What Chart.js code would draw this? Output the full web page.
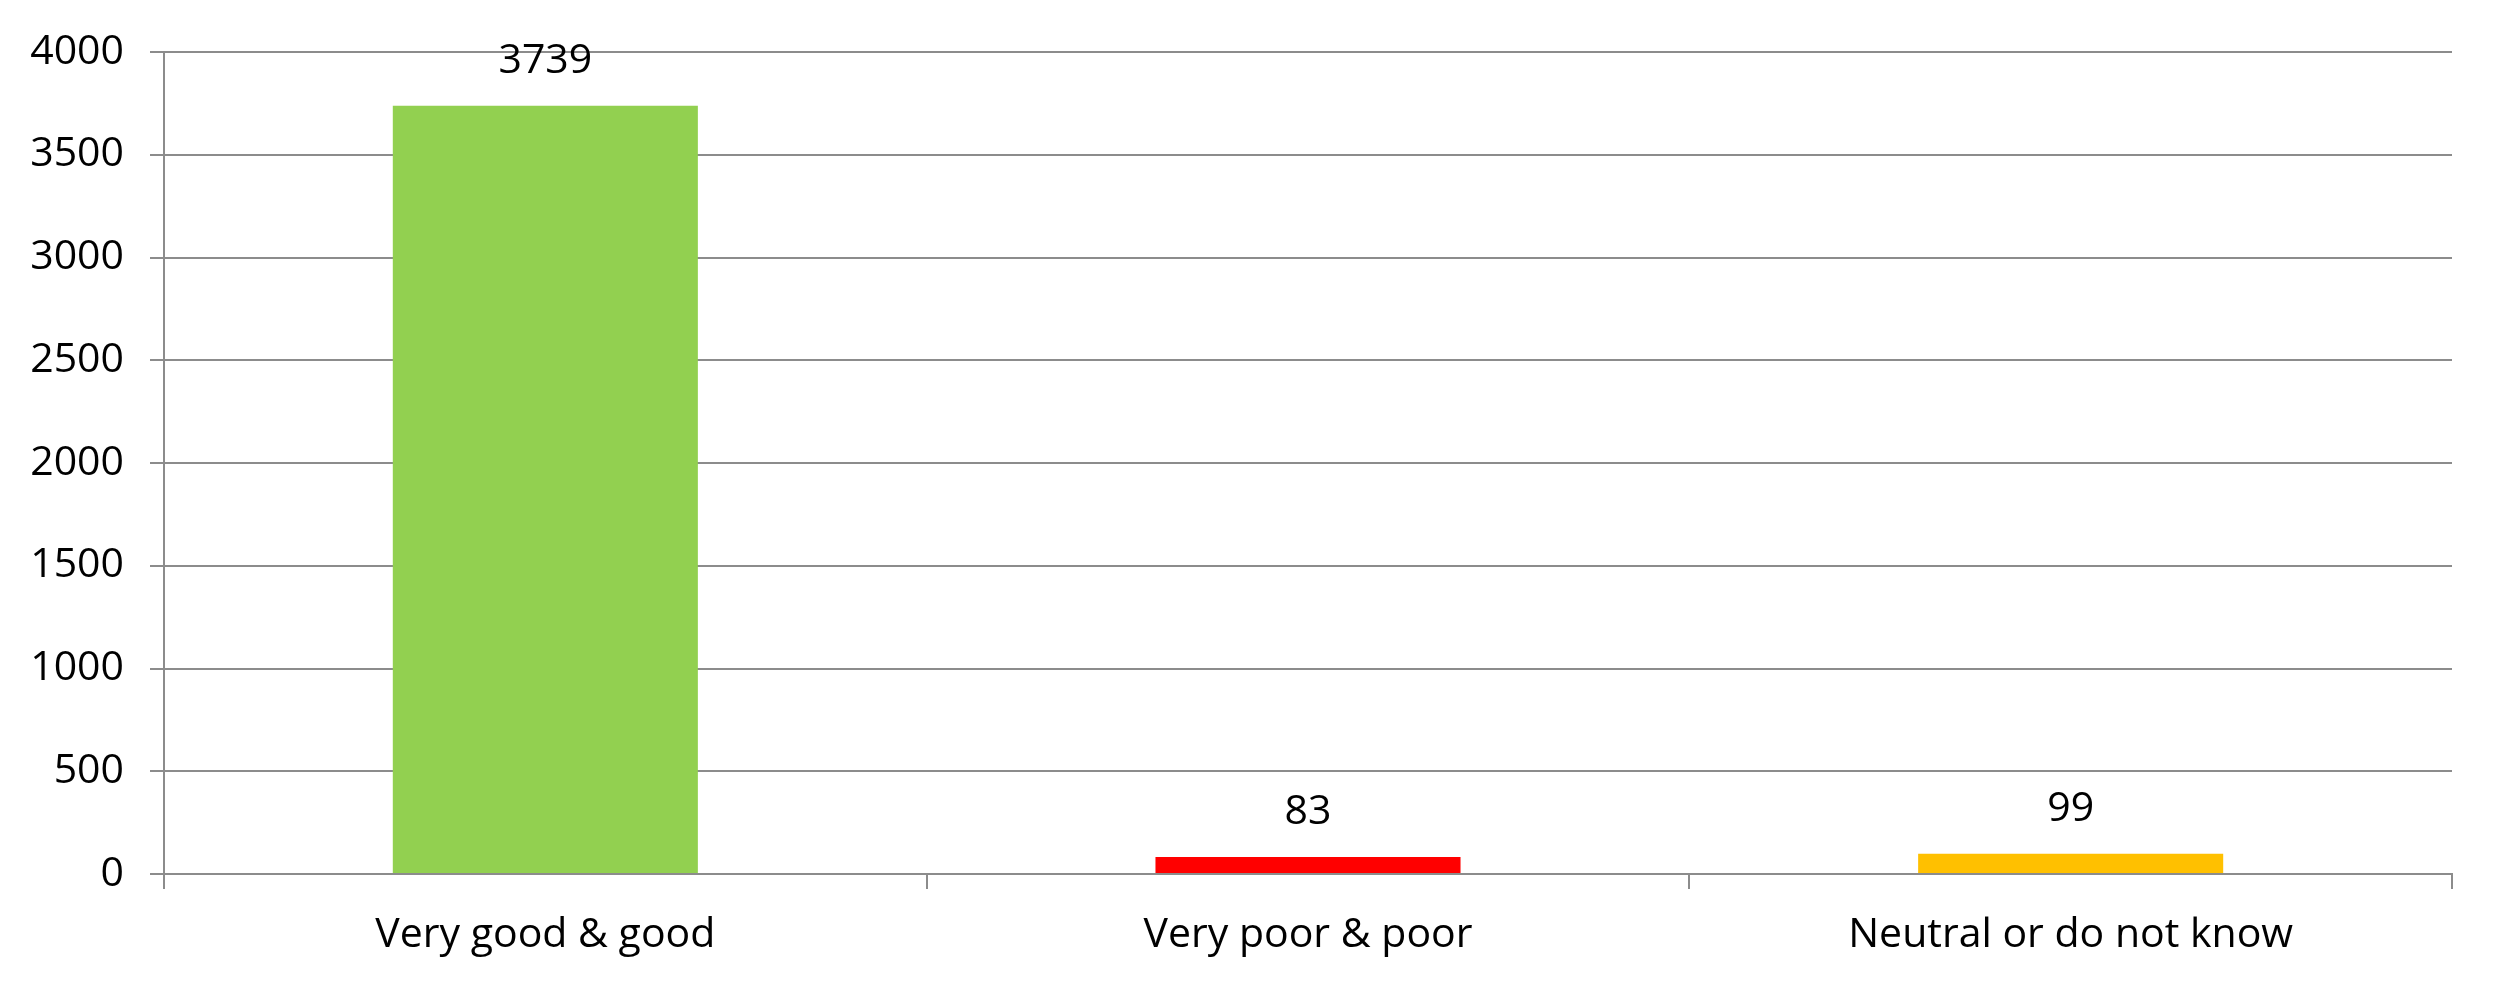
<!DOCTYPE html>
<html>
<head>
<meta charset="utf-8">
<script src="https://cdn.jsdelivr.net/npm/chart.js@4/dist/chart.umd.min.js"></script>
<style>
  html, body { margin: 0; padding: 0; background: #ffffff; }
  #wrap { width: 2502px; height: 990px; }
</style>
</head>
<body>
<div id="wrap"><canvas id="c" width="2502" height="990"></canvas></div>
<script>
const categories = ["Very good & good", "Very poor & poor", "Neutral or do not know"];
const values = [3739, 83, 99];
const barColors = ["#92D050", "#FF0000", "#FFC000"];
const yTicks = [0, 500, 1000, 1500, 2000, 2500, 3000, 3500, 4000];

const FONT = "'Open Sans', sans-serif";
const FSIZE = 41;
const GRID = "#8c8c8c";

const valueLabels = {
  id: "valueLabels",
  afterDatasetsDraw(chart) {
    const ctx = chart.ctx;
    ctx.save();
    ctx.font = FSIZE + "px " + FONT;
    ctx.fillStyle = "#000";
    ctx.textAlign = "center";
    ctx.textBaseline = "alphabetic";
    chart.getDatasetMeta(0).data.forEach((bar, i) => {
      ctx.fillText(String(values[i]), bar.x, bar.y - 33);
    });
    ctx.restore();
  }
};

new Chart(document.getElementById("c"), {
  type: "bar",
  data: {
    labels: categories,
    datasets: [{
      data: values,
      backgroundColor: barColors,
      borderWidth: 0,
      barPercentage: 0.4,
      categoryPercentage: 1.0
    }]
  },
  options: {
    responsive: false,
    animation: false,
    devicePixelRatio: 1,
    layout: { padding: { top: 52, right: 50, left: 0, bottom: 0 } },
    plugins: { legend: { display: false }, tooltip: { enabled: false } },
    scales: {
      x: {
        grid: { display: true, drawOnChartArea: false, drawTicks: true, tickLength: 15, color: GRID, lineWidth: 2, offset: true },
        border: { display: true, color: GRID, width: 2 },
        ticks: { color: "#000", font: { family: FONT, size: FSIZE }, padding: 22, maxRotation: 0 },
        afterFit(s) { s.height = 116; }
      },
      y: {
        min: 0, max: 4000,
        afterBuildTicks(s) { s.ticks = yTicks.map(v => ({ value: v })); },
        grid: { color: GRID, lineWidth: 2, drawTicks: true, tickLength: 14 },
        border: { display: true, color: GRID, width: 2 },
        ticks: { color: "#000", font: { family: FONT, size: FSIZE }, padding: 26, callback: v => String(v) },
        afterFit(s) { s.width = 164; }
      }
    }
  },
  plugins: [valueLabels]
});
</script>
</body>
</html>
